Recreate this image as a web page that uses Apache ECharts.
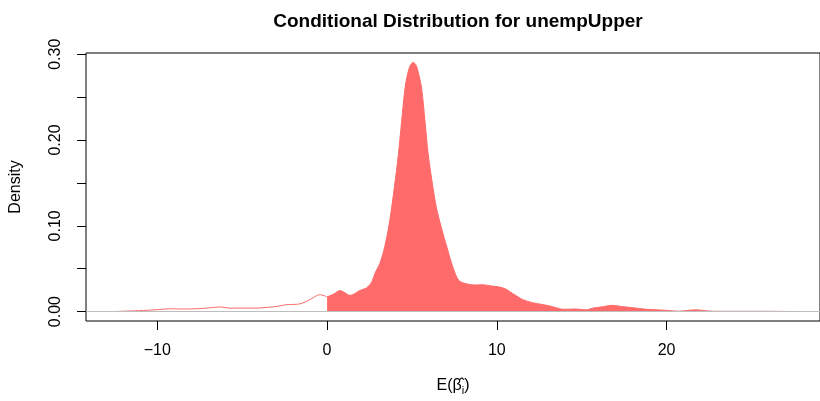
<!DOCTYPE html>
<html>
<head>
<meta charset="UTF-8">
<title>Conditional Distribution for unempUpper</title>
<script src="https://cdn.jsdelivr.net/npm/echarts@6/dist/echarts.min.js"></script>
<style>
  html, body { margin: 0; padding: 0; background: #fff; }
  #chart { width: 820px; height: 401px; }
</style>
</head>
<body>
<div id="chart"></div>
<script>
  // density estimate
  var betaX = [-12.6, -11.5, -10.6, -9.8, -9.3, -8.3, -7.1, -6.3, -5.7, -5.0, -4.3, -3.6, -3.2, -2.8, -2.4, -1.6, -1.0, -0.43,
    0.0, 0.4, 0.75, 1.05, 1.34, 1.6, 1.92, 2.32, 2.55, 2.67, 2.85, 3.1, 3.39, 3.69, 3.96, 4.2, 4.39, 4.59, 4.73, 4.9,
    5.08, 5.25, 5.41, 5.57, 5.77, 5.96, 6.24, 6.44, 6.73, 7.06, 7.41, 7.76, 8.2, 8.7, 9.18, 9.6, 10.16,
    10.5, 10.75, 11.1, 11.53, 12.1, 12.6, 13.1, 13.5, 13.9, 14.67, 15.26, 15.65, 16.2, 16.8, 17.3, 17.8, 18.8, 19.96,
    20.7, 21.7, 22.7, 24.0, 26.0, 27.4];
  var density = [0.0000, 0.0008, 0.0015, 0.0025, 0.0032, 0.0030, 0.0040, 0.0054, 0.0040, 0.0040, 0.0040, 0.0048, 0.0054, 0.0066, 0.0080, 0.0090, 0.0140, 0.0197,
    0.0172, 0.0205, 0.0245, 0.0220, 0.0189, 0.0205, 0.0245, 0.0275, 0.0320, 0.0363, 0.0460, 0.0556, 0.0750, 0.1058, 0.1445, 0.1831, 0.2217, 0.2604, 0.2758, 0.2870,
    0.2905, 0.2870, 0.2758, 0.2604, 0.2217, 0.1831, 0.1445, 0.1213, 0.0981, 0.0750, 0.0518, 0.0363, 0.0324, 0.0310, 0.0313, 0.0300, 0.0286,
    0.0265, 0.0235, 0.0190, 0.0139, 0.0104, 0.0085, 0.0066, 0.0045, 0.0027, 0.0030, 0.0020, 0.0040, 0.0055, 0.0073, 0.0060, 0.0050, 0.0027, 0.0015,
    0.0004, 0.0020, 0.0004, 0.0003, 0.0003, 0.0001];
  var xTicks = [-10, 0, 10, 20];
  var yTicks = [0, 0.05, 0.10, 0.15, 0.20, 0.25, 0.30];
  var yLabels = [0, 0.10, 0.20, 0.30];

  var negPart = [], posPart = [];
  for (var i = 0; i < betaX.length; i++) {
    if (betaX[i] <= 0) negPart.push([betaX[i], density[i]]);
    if (betaX[i] >= 0) posPart.push([betaX[i], density[i]]);
  }

  var red = '#FF6A6A';
  var font = 'Liberation Sans, Arial, sans-serif';
  var chart = echarts.init(document.getElementById('chart'));

  var option = {
    animation: false,
    title: {
      text: 'Conditional Distribution for unempUpper',
      left: 453, top: 7, textAlign: 'center',
      textStyle: { fontFamily: font, fontSize: 19, fontWeight: 'bold', color: '#000' }
    },
    grid: {
      left: 86, top: 53, width: 735, height: 269,
      show: true, borderColor: '#000', borderWidth: 1, backgroundColor: 'transparent'
    },
    xAxis: {
      type: 'value', min: -14.2, max: -14.2 + 735 / 17,
      splitLine: { show: false },
      axisLine: { show: false, onZero: false },
      axisTick: { show: true, length: 9, customValues: xTicks, lineStyle: { color: '#000' } },
      axisLabel: {
        customValues: xTicks, margin: 22, color: '#000', fontFamily: font, fontSize: 16,
        formatter: function (v) { return String(v).replace('-', '\u2212'); }
      },
      name: '{t|E(}{b|β\u0302}{s|i}{t|)}',
      nameLocation: 'middle', nameGap: 55,
      nameTextStyle: {
        rich: {
          t: { fontFamily: font, fontSize: 16, color: '#000' },
          b: { fontFamily: font, fontSize: 16, color: '#000' },
          s: { fontFamily: font, fontSize: 11, color: '#000', padding: [9, 0, 0, 0] }
        }
      }
    },
    yAxis: {
      type: 'value', min: -0.0110, max: 0.3015,
      splitLine: { show: false },
      axisLine: { show: false, onZero: false },
      axisTick: { show: true, length: 9, customValues: yTicks, lineStyle: { color: '#000' } },
      axisLabel: {
        customValues: yLabels, rotate: 90, margin: 22, color: '#000', fontFamily: font, fontSize: 16,
        formatter: function (v) { return v.toFixed(2); }
      },
      name: 'Density', nameLocation: 'middle', nameGap: 62, nameRotate: 90,
      nameTextStyle: { fontFamily: font, fontSize: 16, color: '#000' }
    },
    series: [
      {
        type: 'line', data: negPart, showSymbol: false, smooth: 0.3,
        lineStyle: { color: red, width: 1 },
        markLine: {
          silent: true, symbol: 'none', label: { show: false },
          lineStyle: { color: '#BEBEBE', width: 1, type: 'solid' },
          data: [{ yAxis: 0 }]
        }
      },
      {
        type: 'line', data: posPart, showSymbol: false, smooth: 0.3,
        lineStyle: { color: red, width: 1 },
        areaStyle: { color: red, opacity: 1 }
      }
    ]
  };
  chart.setOption(option);
</script>
</body>
</html>
